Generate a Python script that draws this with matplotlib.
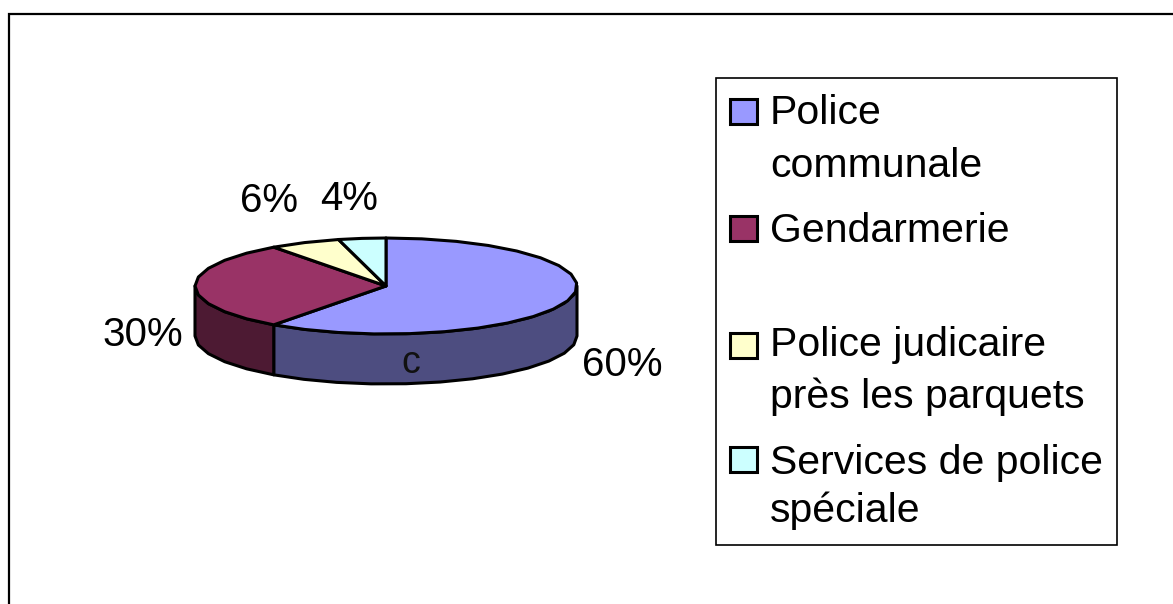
import numpy as np
import matplotlib
matplotlib.use('Agg')
import matplotlib.pyplot as plt
import matplotlib.patches as patches

plt.rcParams['font.family'] = ['Liberation Sans', 'DejaVu Sans']

# Data
categories = ['Police\ncommunale', 'Gendarmerie', 'Police judicaire\nprès les parquets', 'Services de police\nspéciale']
shares = [60, 30, 6, 4]
top_colors = ['#9999FF', '#993366', '#FFFFCC', '#CCFFFF']
side_colors = ['#4D4D80', '#4D1A33', '#808066', '#668080']
share_labels = ['60%', '30%', '6%', '4%']

W, H = 1173, 604
fig = plt.figure(figsize=(W / 100, H / 100), dpi=100)
ax = fig.add_axes([0, 0, 1, 1])
ax.set_xlim(0, W)
ax.set_ylim(H, 0)
ax.axis('off')

# Outer frame: only left and top are visible
ax.plot([8.5, 8.5, W], [H, 13.5, 13.5], color='black', lw=1.6, solid_joinstyle='miter')

# Pie geometry in pixels
cx, cy = 386, 286
a, b = 191, 48
depth = 50
lw = 2.2


def rim(start, stop):
    # angles in degrees, clockwise from 12 o'clock, faceted like the original
    n = max(2, int(abs(stop - start) / 11) + 2)
    t = np.radians(np.linspace(start, stop, n))
    return cx + a * np.sin(t), cy - b * np.cos(t)


edges = np.cumsum([0] + shares) * 3.6

# Sides first: only the front half of the rim (90..270 degrees) shows
for i in range(len(shares)):
    s, e = max(edges[i], 90), min(edges[i + 1], 270)
    if e <= s:
        continue
    x, y = rim(s, e)
    xs = np.concatenate([x, x[::-1]])
    ys = np.concatenate([y, y[::-1] + depth])
    ax.fill(xs, ys, facecolor=side_colors[i], edgecolor='black', lw=lw, joinstyle='round')

# Top faces
for i in range(len(shares)):
    x, y = rim(edges[i], edges[i + 1])
    xs = np.concatenate([[cx], x])
    ys = np.concatenate([[cy], y])
    ax.fill(xs, ys, facecolor=top_colors[i], edgecolor='black', lw=lw, joinstyle='round')

# Share labels (baseline positions)
fs = 29
label_pos = [(622, 376), (143, 346), (269, 212), (349, 210)]
for lab, (px, py) in zip(share_labels, label_pos):
    ax.text(px, py, lab, fontsize=fs, ha='center', va='baseline', color='black')
ax.text(411, 373, 'c', fontsize=27, ha='center', va='baseline', color='#111111')

# Legend box
ax.add_patch(patches.Rectangle((715.5, 77.5), 401, 467, facecolor='white', edgecolor='black', lw=1.2))
swatch_y = [99, 216, 333, 447]
text_y = [[124, 177], [242], [356, 408], [474, 522]]
for i, cat in enumerate(categories):
    ax.add_patch(patches.Rectangle((730, swatch_y[i]), 27, 25, facecolor=top_colors[i], edgecolor='black', lw=2.2))
    for j, line in enumerate(cat.split('\n')):
        ax.text(770, text_y[i][j], line, fontsize=29.5, ha='left', va='baseline', color='black')

fig.savefig('out.png', dpi=100, facecolor='white')
